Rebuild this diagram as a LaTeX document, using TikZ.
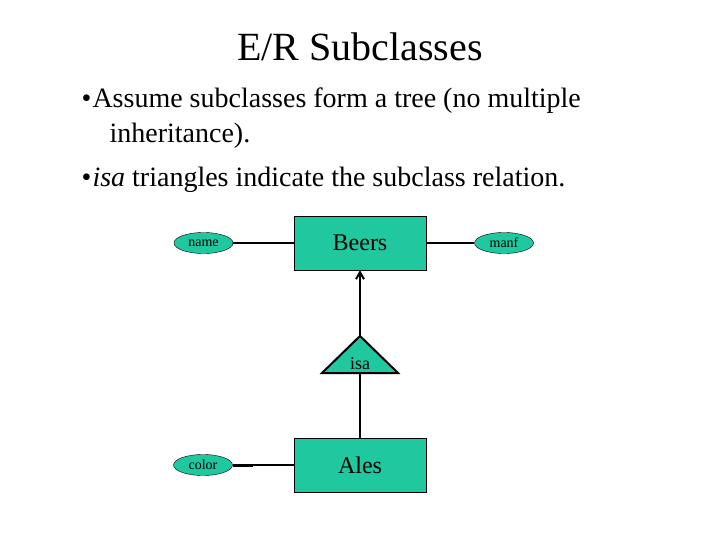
\documentclass[tikz,border=0pt]{standalone}
\usepackage{fontspec}
\setmainfont{Liberation Serif}
\usetikzlibrary{arrows.meta,shapes.geometric}
\definecolor{er}{RGB}{32,200,160}
\begin{document}
\begin{tikzpicture}[x=1pt,y=-1pt,
  ent/.style={draw,fill=er,minimum width=132pt,minimum height=54pt,font=\fontsize{24}{24}\selectfont,inner sep=0pt},
  attr/.style={draw,fill=er,ellipse,minimum width=59pt,minimum height=21pt,inner sep=0pt,font=\fontsize{14}{14}\selectfont},
  ln/.style={line width=2pt}]
\useasboundingbox (0,0) rectangle (720,540);
\node[font=\fontsize{40}{40}\selectfont] (title) at (360,47) {E/R Subclasses};
\node[anchor=base west,font=\fontsize{28}{28}\selectfont] (b1) at (78,108) {•};
\node[anchor=base west,font=\fontsize{28}{28}\selectfont] (t1) at (89,108) {Assume subclasses form a tree (no multiple};
\node[anchor=base west,font=\fontsize{28}{28}\selectfont] (t2) at (106,143) {inheritance).};
\node[anchor=base west,font=\fontsize{28}{28}\selectfont] (b3) at (78,187) {•};
\node[anchor=base west,font=\fontsize{28}{28}\selectfont] (t3) at (89,187) {\textit{isa} triangles indicate the subclass relation.};
\node[ent] (beers) at (360,243) {Beers};
\node[ent] (ales) at (360,465) {Ales};
\node[attr] (name) at (203.5,243) {name};
\node[attr] (manf) at (504,243) {manf};
\node[attr] (color) at (203,465) {color};
\draw[ln,fill=er,line join=miter] (360,336) coordinate (apex) -- (398,373) coordinate (br) -- (322,373) coordinate (bl) -- cycle;
\coordinate (base) at (360,373);
\node[font=\fontsize{18}{18}\selectfont] (isa) at (360,364) {isa};
\draw[ln] (name) -- (beers);
\draw[ln] (beers) -- (manf);
\draw[ln] (color) -- (ales);
\draw[line width=3pt] (color.east) -- ++(20,0);
\draw[ln,-{Straight Barb[length=7pt,width=8pt]}] (apex) -- (beers.south);
\draw[ln] (ales.north) -- (base);
\end{tikzpicture}
\end{document}
